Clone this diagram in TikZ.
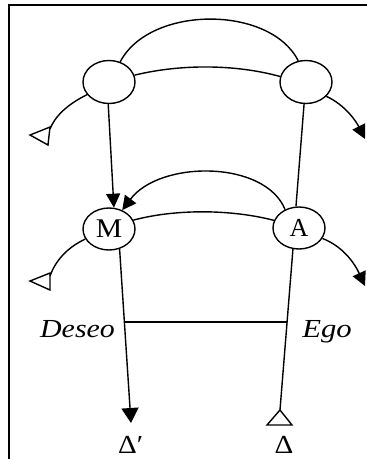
\documentclass[tikz,border=0pt]{standalone}
\usepackage{fontspec}
\setmainfont{Liberation Serif}
\usetikzlibrary{shapes.geometric,arrows.meta}
\begin{document}
\begin{tikzpicture}[x=1pt,y=-1pt,
  ln/.style={line width=1.4pt},
  circ/.style={ellipse,draw,line width=1.4pt,inner sep=0pt,minimum width=52pt,minimum height=43pt},
  tipfill/.style={-{Triangle[length=14pt,width=14pt]}},
  txt/.style={font=\fontsize{26}{29}\selectfont,anchor=base,inner sep=0pt},
  ital/.style={font=\fontsize{26}{29}\selectfont\itshape,anchor=base,inner sep=0pt}]
\useasboundingbox (0,0) rectangle (367,459);
% frame
\draw[line width=1.8pt] (9,459) -- (9,5) -- (367,5);
% circles
\node[circ] (TL) at (109,82) {};
\node[circ] (TR) at (306,82) {};
\node[circ,minimum height=42pt] (M) at (109,229) {\fontsize{27}{30}\selectfont\scalebox{1.1}[1]{M}};
\node[circ,minimum height=42pt] (A) at (299,228) {\fontsize{26}{29}\selectfont A};
% top arcs
\draw[ln] (TL.61) .. controls (150,5) and (270,5) .. (TR.110);
\draw[ln] (TL.15) .. controls (180,64) and (235,64) .. (TR.168);
% outward from top circles
\coordinate (tlend) at (50,129);
\draw[ln] (TL.210) .. controls (68,104) and (55,116) .. (tlend);
\draw[ln] (30,135) -- (50,127) -- (48,145) -- cycle;
\coordinate (trend) at (365,139);
\draw[ln,tipfill] (TR.325) .. controls (345,105) and (356,121) .. (trend);
% verticals top to middle
\draw[ln,tipfill] (TL.268) -- (M.77);
\draw[ln] (TR.265) -- (A.98);
% middle curved arrow
\draw[ln,tipfill] (A.127) .. controls (265,160) and (160,160) .. (M.55);
% M-A arc
\draw[ln] (M.20) .. controls (175,209) and (230,209) .. (A.163);
% outward from M and A
\coordinate (mend) at (50,276);
\draw[ln] (M.203) .. controls (66,248) and (55,262) .. (mend);
\draw[ln] (30,281) -- (50,273) -- (50,290) -- cycle;
\coordinate (aend) at (365,286);
\draw[ln,tipfill] (A.336) .. controls (342,246) and (354,262) .. (aend);
% lower lines
\coordinate (tipL) at (131,423);
\coordinate (apexR) at (280,410);
\draw[ln,-{Triangle[length=15pt,width=17pt]}] (M.298) -- (tipL);
\draw[ln] (A.254) -- (apexR);
\draw[ln] (apexR) -- (267,425) -- (292,425) -- cycle;
% horizontal connector
\coordinate (hl) at (124.6,322);
\coordinate (hr) at (287,322);
\draw[line width=1.1pt] (hl) -- (hr);
% labels
\node[ital] (deseo) at (77.5,337) {\scalebox{1.15}[1]{Deseo}};
\node[ital] (ego) at (327,337) {\scalebox{1.18}[1]{Ego}};
\node[txt,anchor=base west] (dl) at (118,453) {\scalebox{1.12}[1]{Δ′}};
\node[txt] (dr) at (284,453) {\scalebox{1.12}[1]{Δ}};
\end{tikzpicture}
\end{document}
